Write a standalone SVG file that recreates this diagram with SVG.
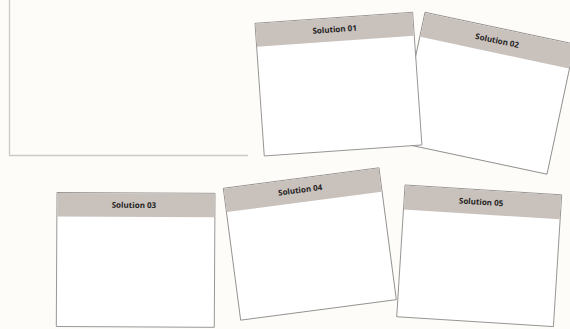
<svg xmlns="http://www.w3.org/2000/svg" width="570" height="329" viewBox="0 0 570 329">
  <style>
    .card { fill: #ffffff; stroke: #8e8c8a; stroke-width: 0.9; }
    .head { fill: #c9c1bc; stroke: none; }
    .lbl { font-family: "Open Sans", "DejaVu Sans", sans-serif; font-size: 8px; font-weight: 700; fill: #1e1e1e; text-anchor: middle; }
  </style>
  <rect x="0" y="0" width="570" height="329" fill="#fdfcf9"/>
  <g id="canvas">
    <path d="M9.5,-2 V155.5 H248" fill="none" stroke="#cdc8c4" stroke-width="1.3"/>
  </g>
  <g id="connectors"></g>
  <g id="solution02" transform="translate(425,12.3) rotate(12)">
    <rect class="card" x="0" y="0" width="153" height="133"/>
    <rect class="head" x="0.5" y="0.5" width="152" height="24.5"/>
    <text class="lbl" x="76.5" y="15.5">Solution 02</text>
  </g>
  <g id="solution01" transform="translate(255,23.3) rotate(-4)">
    <rect class="card" x="0" y="0" width="158" height="133"/>
    <rect class="head" x="0.5" y="0.5" width="157" height="23"/>
    <text class="lbl" x="79" y="14.5">Solution 01</text>
  </g>
  <g id="solution03" transform="translate(57,192.5) rotate(0.3)">
    <rect class="card" x="0" y="0" width="158" height="134"/>
    <rect class="head" x="0.5" y="0.5" width="157" height="23.5"/>
    <text class="lbl" x="77" y="15">Solution 03</text>
  </g>
  <g id="solution04" transform="translate(223.3,188.3) rotate(-7.5)">
    <rect class="card" x="0" y="0" width="157" height="133"/>
    <rect class="head" x="0.5" y="0.5" width="156" height="23.5"/>
    <text class="lbl" x="76" y="14.5">Solution 04</text>
  </g>
  <g id="solution05" transform="translate(405,185) rotate(3.6)">
    <rect class="card" x="0" y="0" width="157" height="132"/>
    <rect class="head" x="0.5" y="0.5" width="156" height="24"/>
    <text class="lbl" x="77" y="15">Solution 05</text>
  </g>
</svg>
